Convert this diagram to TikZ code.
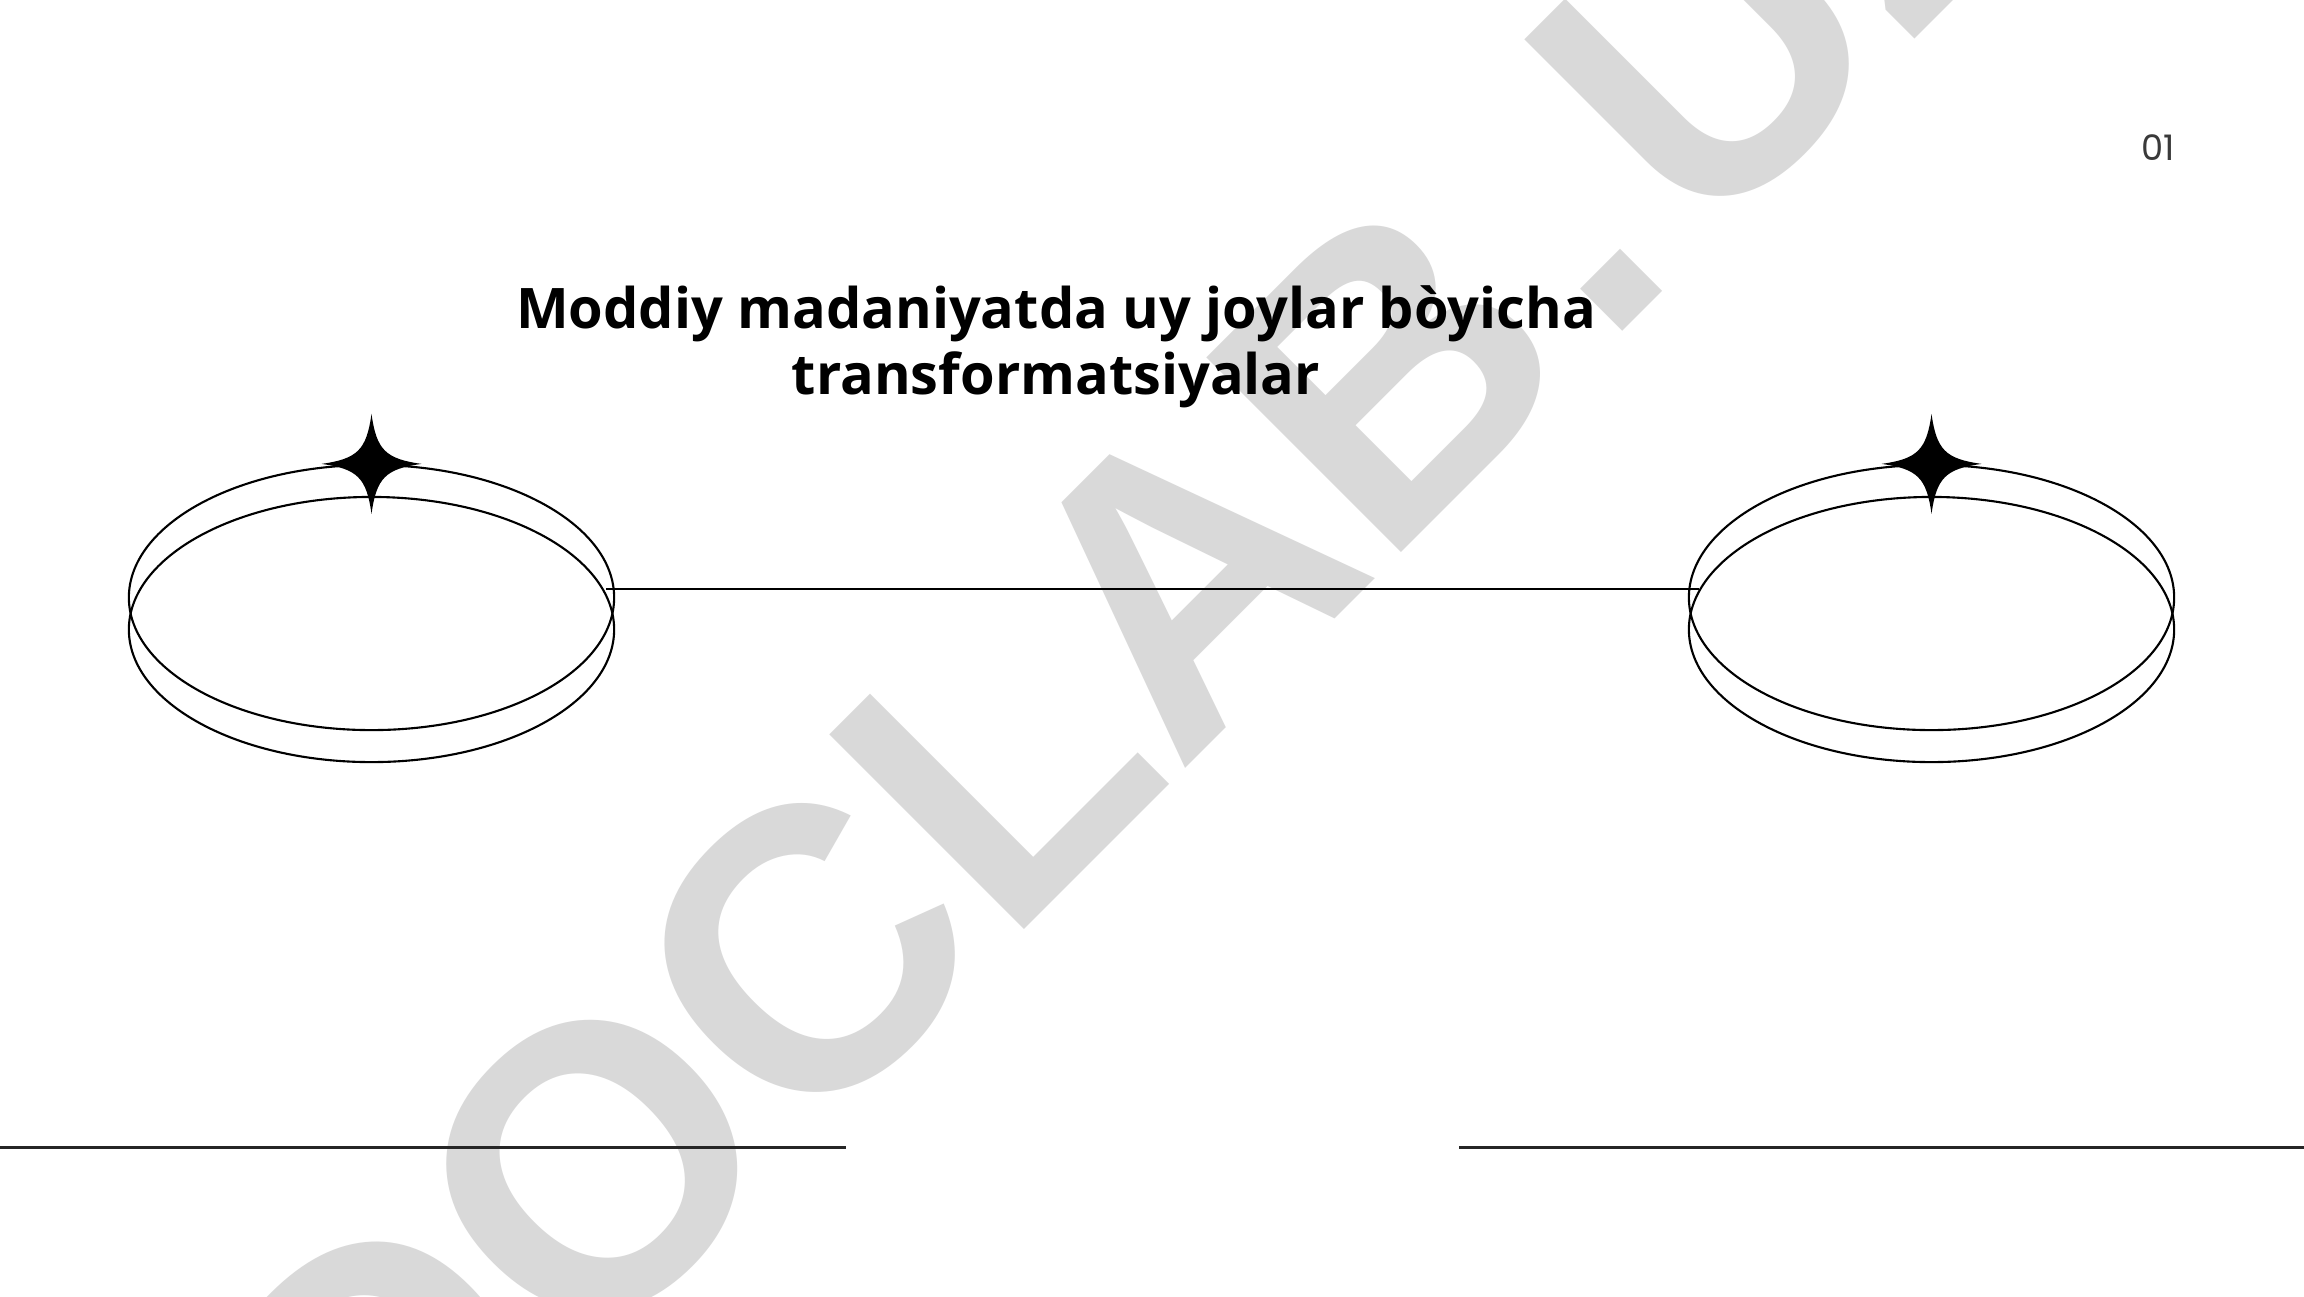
\documentclass[tikz,border=0pt]{standalone}
\usepackage{fontspec}
\setmainfont{Open Sans}
\newfontfamily\numfont{Poppins}
\newfontfamily\markfont{Liberation Sans}
\usetikzlibrary{shapes.geometric,positioning}
\definecolor{wmgray}{HTML}{D9D9D9}
\definecolor{numgray}{HTML}{3A3A3A}

\begin{document}
\begin{tikzpicture}[x=0.01cm,y=-0.01cm]
% ring shape, rules and the little star
\tikzstyle{ring}=[ellipse,draw=black,line width=0.6pt,minimum width=4.85cm,minimum height=2.65cm,inner sep=0pt]
\tikzstyle{rule}=[draw=black!85,line width=0.85pt]
\tikzset{sparkle/.pic={
  \fill[black] (0,-50) .. controls (5,-14) and (14,-5) .. (50,0)
    .. controls (14,5) and (5,14) .. (0,50)
    .. controls (-5,14) and (-14,5) .. (-50,0)
    .. controls (-14,-5) and (-5,-14) .. cycle;}}

% page
\useasboundingbox (0,0) rectangle (2304,1296);
\fill[white] (0,0) rectangle (2304,1296);
\clip (0,0) rectangle (2304,1296);

% watermark
\node[text=wmgray,font=\markfont\fontsize{113.8}{113.8}\selectfont\bfseries,rotate=45,anchor=base west,inner sep=0pt] (mark) at (376,1578) {DOCLAB\kern0.06em.\kern0.07em UZ};

% title and page number
\node[font=\fontsize{15.9}{18.8}\selectfont\bfseries,align=center,inner sep=0pt] (title) at (1056,347) {Moddiy madaniyatda uy joylar bòyicha\\transformatsiyalar};
\node[font=\numfont\fontsize{10}{11}\selectfont,text=numgray,inner sep=0pt] (pagenum) at (2158,148) {01};

% rings
\foreach \name/\x in {left/371.5,right/1931.5}{
  \node[ring] (\name-top) at (\x,597.5) {};
  \node[ring] (\name-bot) at (\x,629.5) {};
  \pic at (\name-top.north) {sparkle};
}

% connecting line
\draw[line width=0.6pt] ([xshift=-0.09cm,yshift=0.085cm]left-top.east) -- ([xshift=0.11cm,yshift=0.085cm]right-top.west);

% bottom rules
\coordinate (rule-a) at (0,1147);
\coordinate (rule-b) at (846,1147);
\coordinate (rule-c) at (1459,1147);
\coordinate (rule-d) at (2304,1147);
\draw[rule] (rule-a) -- (rule-b);
\draw[rule] (rule-c) -- (rule-d);
\end{tikzpicture}
\end{document}
